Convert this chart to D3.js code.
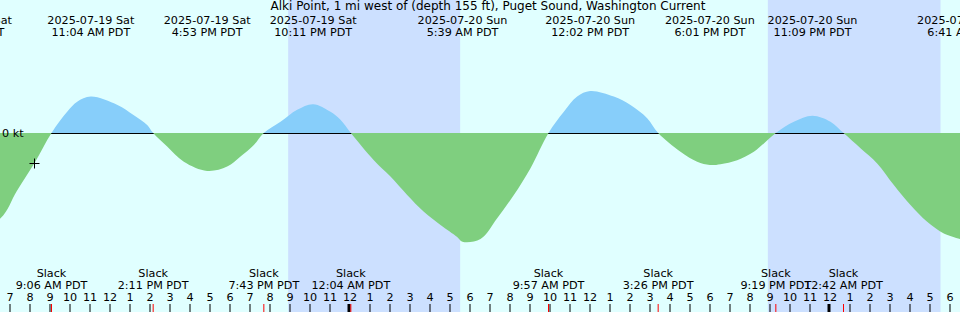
<!DOCTYPE html>
<html><head><meta charset="utf-8">
<script src="https://cdn.jsdelivr.net/npm/d3@7"></script>
<style>
body{margin:0;overflow:hidden;background:#e0ffff}
svg{display:block}
text{font-family:"DejaVu Sans";font-size:11.2px;fill:#000}
</style>
</head><body><svg id="c" width="960" height="312"></svg>
<script>
const titleText = "Alki Point, 1 mi west of (depth 155 ft), Puget Sound, Washington Current";
const domainTimes = ["2025-07-19 06:33", "2025-07-21 06:33"];
const curveTimes = [
  "2025-07-19 04:57","2025-07-19 06:33","2025-07-19 07:22","2025-07-19 08:15","2025-07-19 09:06",
  "2025-07-19 09:53","2025-07-19 10:23","2025-07-19 11:04","2025-07-19 12:24","2025-07-19 13:12",
  "2025-07-19 13:53","2025-07-19 14:11","2025-07-19 14:53","2025-07-19 15:43","2025-07-19 16:53",
  "2025-07-19 17:53","2025-07-19 18:33","2025-07-19 19:13","2025-07-19 19:43","2025-07-19 20:33",
  "2025-07-19 21:23","2025-07-19 22:11","2025-07-19 23:03","2025-07-19 23:33","2025-07-20 00:04",
  "2025-07-20 01:13","2025-07-20 02:03","2025-07-20 02:53","2025-07-20 03:43","2025-07-20 04:33",
  "2025-07-20 05:23","2025-07-20 05:39","2025-07-20 06:33","2025-07-20 07:23","2025-07-20 08:13",
  "2025-07-20 09:03","2025-07-20 09:57","2025-07-20 10:43","2025-07-20 11:23","2025-07-20 12:02",
  "2025-07-20 13:13","2025-07-20 14:03","2025-07-20 14:53","2025-07-20 15:26","2025-07-20 16:33",
  "2025-07-20 17:23","2025-07-20 18:01","2025-07-20 18:33","2025-07-20 19:23","2025-07-20 20:13",
  "2025-07-20 21:19","2025-07-20 22:13","2025-07-20 23:09","2025-07-21 00:03","2025-07-21 00:42",
  "2025-07-21 01:33","2025-07-21 02:23","2025-07-21 03:13","2025-07-21 04:03","2025-07-21 04:53",
  "2025-07-21 05:43","2025-07-21 06:41"
];
const curveKt = [
  -2.5,-2.13,-1.45,-0.75,0,
  0.53,0.78,0.91,0.70,0.45,
  0.20,0,-0.34,-0.72,-0.95,
  -0.84,-0.59,-0.30,0,0.28,
  0.58,0.72,0.53,0.33,0,
  -0.68,-1.09,-1.55,-1.97,-2.30,
  -2.60,-2.72,-2.65,-2.13,-1.55,
  -0.88,0,0.53,0.91,1.05,
  0.91,0.70,0.37,0,-0.47,
  -0.72,-0.80,-0.78,-0.68,-0.47,
  0,0.28,0.43,0.28,0,
  -0.38,-0.76,-1.30,-1.80,-2.22,
  -2.51,-2.67
];
const maxTimes = ["2025-07-19 04:57","2025-07-19 11:04","2025-07-19 16:53","2025-07-19 22:11",
  "2025-07-20 05:39","2025-07-20 12:02","2025-07-20 18:01","2025-07-20 23:09","2025-07-21 06:41"];
const slackTimes = ["2025-07-19 09:06","2025-07-19 14:11","2025-07-19 19:43","2025-07-20 00:04",
  "2025-07-20 09:57","2025-07-20 15:26","2025-07-20 21:19","2025-07-21 00:42"];
const nightStarts = ["2025-07-19 20:56","2025-07-20 20:55"];
const nightEnds = ["2025-07-20 05:32","2025-07-21 05:33"];
const nowTime = "2025-07-19 08:14";
const nowKt = -0.75;
const zeroLabel = "0 kt";
const slackWord = "Slack";

const parse = d3.timeParse("%Y-%m-%d %H:%M");
const fmtDate = d3.timeFormat("%Y-%m-%d %a");
const fmtTime = t => d3.timeFormat("%-I:%M %p")(t) + " PDT";
const W = 960, H = 312;
const svg = d3.select("#c");
const x = d3.scaleTime().domain(domainTimes.map(parse)).range([0.5, W + 0.5]);
const y = d3.scaleLinear().domain([1, -2]).range([93, 213]);
const y0 = y(0);

svg.append("rect").attr("width", W).attr("height", H).attr("fill", "#e0ffff");
nightStarts.forEach((s, i) => {
  const a = x(parse(s)), b = x(parse(nightEnds[i]));
  svg.append("rect").attr("x", a).attr("y", 0).attr("width", b - a).attr("height", H).attr("fill", "#cce0ff");
});

const data = curveTimes.map((t, i) => ({t: parse(t), v: curveKt[i]}));
const defs = svg.append("defs");
defs.append("clipPath").attr("id", "above").append("rect").attr("x", 0).attr("y", 0).attr("width", W).attr("height", y0);
defs.append("clipPath").attr("id", "below").append("rect").attr("x", 0).attr("y", y0).attr("width", W).attr("height", H - y0);

const area = d3.area().curve(d3.curveCatmullRom.alpha(0.5)).x(d => x(d.t)).y0(y0).y1(d => y(d.v));
svg.append("path").datum(data).attr("d", area).attr("fill", "#87cefa").attr("clip-path", "url(#above)");
svg.append("line").attr("x1", 0).attr("x2", W).attr("y1", y0 + 0.5).attr("y2", y0 + 0.5).attr("stroke", "#000");
svg.append("path").datum(data).attr("d", area).attr("fill", "#7fcf7f").attr("clip-path", "url(#below)");

svg.append("text").attr("x", 2).attr("y", y0 + 4).text(zeroLabel);

// now mark
const nx = Math.round(x(parse(nowTime))) + 0.5, ny = Math.round(y(nowKt)) + 0.5;
svg.append("path").attr("d", `M${nx-5},${ny}H${nx+5}M${nx},${ny-5}V${ny+5}`).attr("stroke", "#000").attr("fill", "none");

// title
svg.append("text").attr("x", 488).attr("y", 10).attr("text-anchor", "middle").style("font-size", "12px").text(titleText);

// max labels
maxTimes.forEach(s => {
  const t = parse(s);
  const g = svg.append("text").attr("text-anchor", "middle");
  g.append("tspan").attr("x", x(t)).attr("y", 24).text(fmtDate(t));
  g.append("tspan").attr("x", x(t)).attr("y", 36).text(fmtTime(t));
});

// hour axis
const axis = d3.axisTop(x).ticks(d3.timeHour.every(1)).tickSize(8).tickPadding(3)
  .tickFormat(d => d3.timeFormat("%-I")(d));
const ag = svg.append("g").attr("transform", `translate(0,${H})`).call(axis);
ag.select(".domain").remove();
ag.selectAll("text").style("font-family", "DejaVu Sans").style("font-size", "11.2px").attr("fill", "#000");
ag.selectAll(".tick line").attr("stroke", "#000")
  .attr("stroke-width", d => d.getHours() === 0 ? 3 : 1)
  .attr("transform", d => d.getHours() === 0 ? "translate(-1,0)" : null);

// slack labels and red ticks
slackTimes.forEach(s => {
  const t = parse(s);
  const g = svg.append("text").attr("text-anchor", "middle");
  g.append("tspan").attr("x", x(t)).attr("y", 277).text(slackWord);
  g.append("tspan").attr("x", x(t)).attr("y", 289).text(fmtTime(t));
  svg.append("line").attr("x1", x(t)).attr("x2", x(t)).attr("y1", H - 8).attr("y2", H).attr("stroke", "red");
});
</script></body></html>
